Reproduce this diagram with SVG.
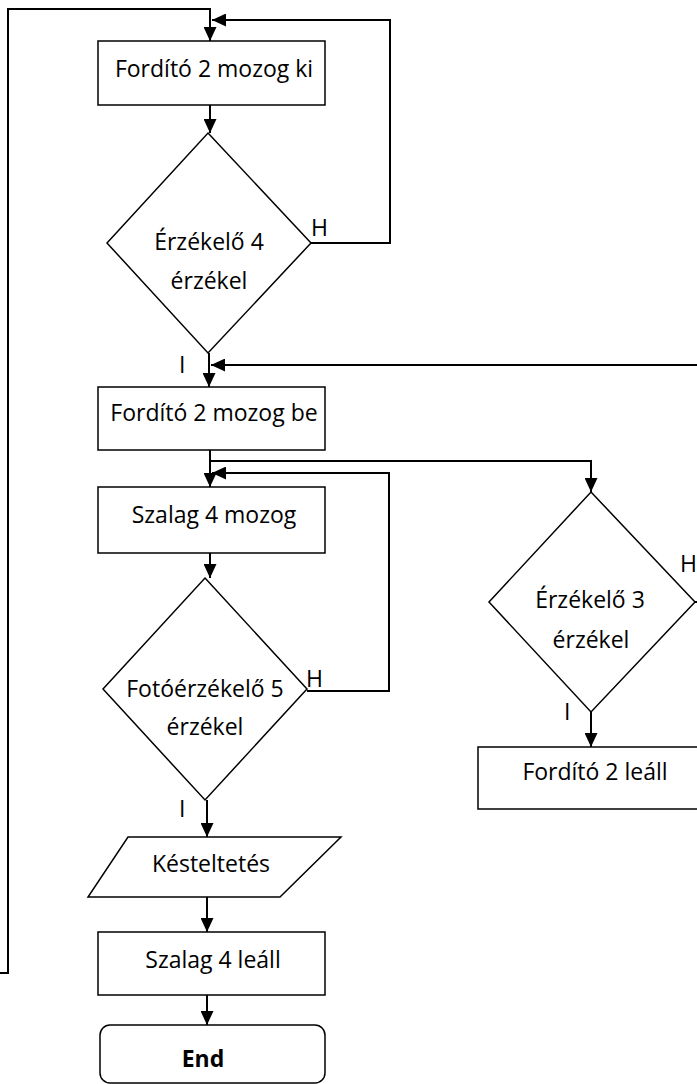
<svg xmlns="http://www.w3.org/2000/svg" width="697" height="1084" viewBox="0 0 697 1084">
<style>
.shape{fill:#fff;stroke:#000;stroke-width:1.5}
.con{fill:none;stroke:#000;stroke-width:2}
text{font-family:"Open Sans","Liberation Sans",sans-serif;font-size:23px;fill:#000;text-anchor:middle}
.lbl{text-anchor:start}
.b{font-weight:bold}
</style>
<defs>
<marker id="ah" markerUnits="userSpaceOnUse" markerWidth="15" markerHeight="13" refX="14" refY="6.5" orient="auto" viewBox="0 0 15 13">
<path d="M0,0 L14,6.5 L0,13 z" fill="#000"/>
</marker>
</defs>
<rect width="697" height="1084" fill="#fff"/>
<g id="connectors">
<path class="con" d="M0,973 H8 V9 H210 V41" marker-end="url(#ah)"/>
<path class="con" d="M210,105 V133" marker-end="url(#ah)"/>
<path class="con" d="M311,243 H390 V20 H212" marker-end="url(#ah)"/>
<path class="con" d="M209,353 V387" marker-end="url(#ah)"/>
<path class="con" d="M695,602 H700 V365 H211" marker-end="url(#ah)"/>
<path class="con" d="M210,450 V487" marker-end="url(#ah)"/>
<path class="con" d="M210,461 H591 V492" marker-end="url(#ah)"/>
<path class="con" d="M307,691 H389 V473 H212" marker-end="url(#ah)"/>
<path class="con" d="M210,553 V578" marker-end="url(#ah)"/>
<path class="con" d="M207,800 V837" marker-end="url(#ah)"/>
<path class="con" d="M207,897 V932" marker-end="url(#ah)"/>
<path class="con" d="M207,995 V1025" marker-end="url(#ah)"/>
<path class="con" d="M591,712 V747" marker-end="url(#ah)"/>
</g>
<g id="labels">
<text class="lbl" x="311" y="236">H</text>
<text class="lbl" x="179" y="373">I</text>
<text class="lbl" x="306" y="687">H</text>
<text class="lbl" x="179" y="817">I</text>
<text class="lbl" x="680" y="572">H</text>
<text class="lbl" x="564" y="720">I</text>
</g>
<g id="n1">
<rect class="shape" x="98" y="41" width="227" height="64"/>
<text x="214" y="77">Fordító 2 mozog ki</text>
</g>
<g id="n2">
<polygon class="shape" points="208,133 311,243 208,353 107,243"/>
<text x="209" y="250">Érzékelő 4</text>
<text x="209" y="289">érzékel</text>
</g>
<g id="n3">
<rect class="shape" x="98" y="387" width="227" height="63"/>
<text x="214" y="421">Fordító 2 mozog be</text>
</g>
<g id="n4">
<rect class="shape" x="98" y="487" width="227" height="66"/>
<text x="214" y="523">Szalag 4 mozog</text>
</g>
<g id="n5">
<polygon class="shape" points="205,578 307,689 205,800 103,689"/>
<text x="205" y="697">Fotóérzékelő 5</text>
<text x="205" y="735">érzékel</text>
</g>
<g id="n6">
<polygon class="shape" points="591,492 695,602 591,712 489,602"/>
<text x="590" y="608">Érzékelő 3</text>
<text x="591" y="648">érzékel</text>
</g>
<g id="n7">
<rect class="shape" x="478" y="747" width="230" height="62"/>
<text x="595" y="780">Fordító 2 leáll</text>
</g>
<g id="n8">
<polygon class="shape" points="128,837 341,837 280,897 88,897"/>
<text x="211" y="872">Késteltetés</text>
</g>
<g id="n9">
<rect class="shape" x="98" y="932" width="227" height="63"/>
<text x="213" y="968">Szalag 4 leáll</text>
</g>
<g id="n10">
<rect class="shape" x="100" y="1025" width="225" height="58" rx="10" ry="10"/>
<text class="b" x="203" y="1067">End</text>
</g>
</svg>
